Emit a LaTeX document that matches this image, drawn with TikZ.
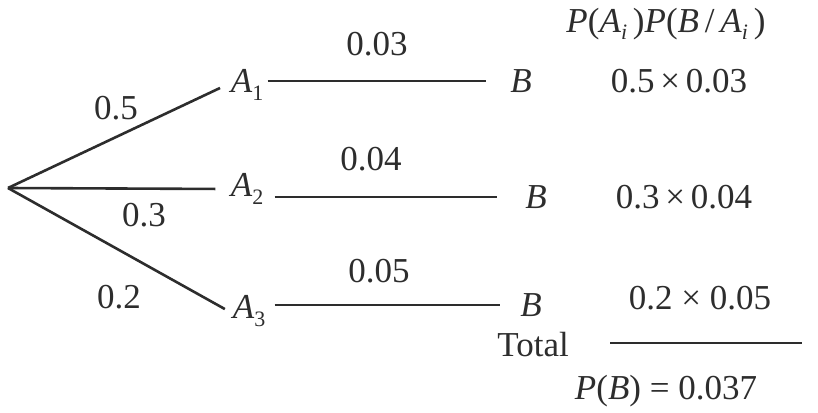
\documentclass[tikz,border=0pt]{standalone}
\usepackage{fontspec}
\setmainfont{Liberation Serif}
\newcommand\lowsub[1]{\raisebox{-0.45ex}{\fontsize{11pt}{11pt}\selectfont #1}}
\definecolor{ink}{RGB}{45,45,45}
\begin{document}
\begin{tikzpicture}[x=0.5pt,y=-0.5pt,
  every node/.style={text=ink, font=\fontsize{17.5pt}{20pt}\selectfont},
  ev/.style={inner sep=2pt},
  lab/.style={inner sep=0pt},
  br/.style={draw=ink, line width=1.3pt}]
\useasboundingbox (0,0) rectangle (818,412);
\coordinate (O) at (8,188);
% event nodes
\node[ev] (A1) at (247,85) {\textit{A}\lowsub{1}};
\node[ev] (A2) at (247,189) {\textit{A}\lowsub{2}};
\node[ev] (A3) at (249,311) {\textit{A}\lowsub{3}};
\node[ev] (B1) at (521,81) {\textit{B}};
\node[ev] (B2) at (536,197) {\textit{B}};
\node[ev] (B3) at (531,305) {\textit{B}};
% branches
\draw[br, shorten >=3.5pt] (O) -- (A1.west);
\draw[br, shorten >=5.5pt] (O) -- (A2.west);
\draw[br, shorten >=2pt] (O) -- (A3.west);
\draw[br, shorten >=10pt] (A1.east |- B1.west) -- (B1.west);
\draw[br, shorten <=3.5pt, shorten >=12pt] (A2.east |- B2.west) -- (B2.west);
\draw[br, shorten <=2.5pt, shorten >=8pt] (A3.east |- B3.west) -- (B3.west);
% branch probabilities
\node[lab] (p1) at (116,108) {0.5};
\node[lab] (p2) at (144,215) {0.3};
\node[lab] (p3) at (119,297) {0.2};
\node[lab] (q1) at (377,44) {0.03};
\node[lab] (q2) at (371,159) {0.04};
\node[lab] (q3) at (379,271) {0.05};
% products
\node[lab] (head) at (666,24) {\textit{P}(\textit{A}\lowsub{\textit{i}}\,)\textit{P}(\textit{B}\,/\,\textit{A}\lowsub{\textit{i}}\,)};
\node[lab] (r1) at (679,81) {0.5\,×\,0.03};
\node[lab] (r2) at (684,197) {0.3\,×\,0.04};
\node[lab] (r3) at (700,298) {0.2 × 0.05};
\node[lab] (tot) at (533,345) {Total};
\coordinate (L1) at (610,343);
\coordinate (L2) at (802,343);
\draw[br] (L1) -- (L2);
\node[lab] (pb) at (666,391) {\textit{P}(\textit{B}) = 0.037};
\end{tikzpicture}
\end{document}
